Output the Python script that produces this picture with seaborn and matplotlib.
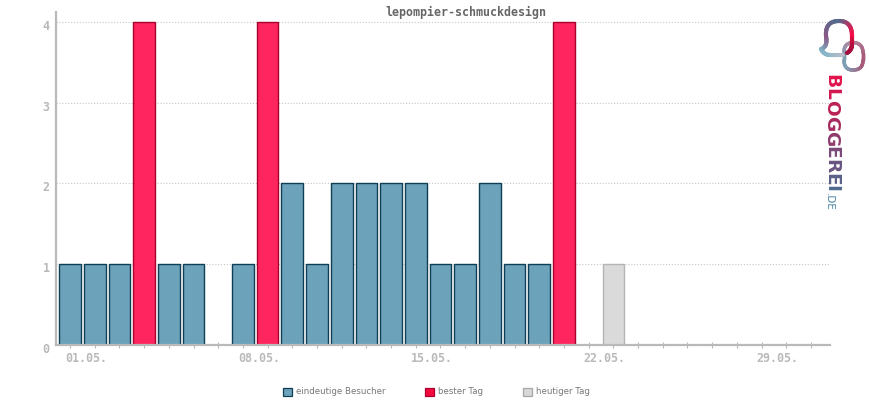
import numpy as np
import pandas as pd
import matplotlib
matplotlib.use("Agg")
import matplotlib.pyplot as plt
import matplotlib.transforms as mtrans
from matplotlib.collections import LineCollection
from matplotlib.colors import LinearSegmentedColormap
from matplotlib.patches import Patch
from matplotlib.path import Path
import seaborn as sns

title = "lepompier-schmuckdesign"
days = list(range(1, 32))
visitors = [1, 1, 1, 4, 1, 1, 0, 1, 4, 2, 1, 2, 2, 2, 2, 1, 1, 2, 1, 1, 4, 0, 1, 0, 0, 0, 0, 0, 0, 0, 0]
best_days = [4, 9, 21]
today = 23
date_labels = ["01.05.", "08.05.", "15.05.", "22.05.", "29.05."]
kinds = ["eindeutige Besucher", "bester Tag", "heutiger Tag"]

fills = {"eindeutige Besucher": "#6ca2ba", "bester Tag": "#ff255e", "heutiger Tag": "#dadada"}
edges = {"eindeutige Besucher": "#0f3f55", "bester Tag": "#a8002f", "heutiger Tag": "#b4b4b4"}
swatches = {"eindeutige Besucher": "#6ca2ba", "bester Tag": "#f5093f", "heutiger Tag": "#d8d8d8"}
swatch_edges = {"eindeutige Besucher": "#0f3f55", "bester Tag": "#a8002f", "heutiger Tag": "#a6a6a6"}

sns.set_theme(style="white")
plt.rcParams.update({
    "font.family": ["DejaVu Sans Mono"],
    "savefig.facecolor": "white",
})

def kind_of(day):
    if day in best_days:
        return kinds[1]
    if day == today:
        return kinds[2]
    return kinds[0]

df = pd.DataFrame({"day": days, "visitors": visitors})
df["kind"] = df["day"].map(kind_of)
df = df[df["visitors"] > 0]

fig = plt.figure(figsize=(8.7, 4), dpi=100)
ax = fig.add_axes([56 / 870, 55 / 400, (830 - 56) / 870, (345 - 12) / 400])

sns.barplot(
    data=df, x="day", y="visitors", hue="kind", order=days, hue_order=kinds,
    palette=fills, dodge=False, width=0.875, legend=False, ax=ax, zorder=2,
    linewidth=1.0, saturation=1,
)
for container, kind in zip(ax.containers, kinds):
    for bar in container:
        bar.set_edgecolor(edges[kind])

ax.set_xlim(-0.567, 30.77)
ax.set_ylim(0, 333 / 80.75)
ax.set_xlabel("")
ax.set_ylabel("")
ax.set_axisbelow(True)
ax.grid(True, axis="y", color="#c6c6c6", linestyle=(0, (1, 1.6)), linewidth=0.8)
ax.grid(False, axis="x")

for side in ["top", "right"]:
    ax.spines[side].set_visible(False)
for side in ["left", "bottom"]:
    ax.spines[side].set_color("#b9b9b9")
    ax.spines[side].set_linewidth(1.6)

ax.set_yticks([0, 1, 2, 3, 4])
ax.set_xticks(range(31))
ax.set_xticklabels([date_labels[i // 7] if i % 7 == 0 else "" for i in range(31)])
ax.tick_params(axis="x", length=4.5, width=0.8, color="#b9b9b9", direction="inout", pad=2.5,
               bottom=True, labelsize=8.4, labelcolor="#b9b9b9")
ax.tick_params(axis="y", length=0, pad=4.5, labelsize=8.4, labelcolor="#b9b9b9")
shift_x = mtrans.ScaledTranslation(-5 / 100, 0, fig.dpi_scale_trans)
shift_y = mtrans.ScaledTranslation(0, -3 / 100, fig.dpi_scale_trans)
for lab in ax.get_xticklabels():
    lab.set_ha("left")
    lab.set_fontweight("bold")
    lab.set_transform(lab.get_transform() + shift_x)
for lab in ax.get_yticklabels():
    lab.set_fontweight("bold")
    lab.set_transform(lab.get_transform() + shift_y)

fig.text(465.5 / 870, 1 - 12 / 400, title, ha="center", va="center", fontsize=8.4,
         fontweight="bold", color="#666666")

# legend
handles = [Patch(facecolor=swatches[k], edgecolor=swatch_edges[k], linewidth=0.9) for k in kinds]
fig.legend(
    handles, kinds, ncol=3, frameon=False, loc="center", bbox_to_anchor=(436.5 / 870, 1 - 392 / 400),
    prop={"family": "DejaVu Sans", "size": 6.2}, labelcolor="#777777", handlelength=1.05,
    handleheight=1.05, handletextpad=0.45, columnspacing=4.6, borderpad=0,
)

# logo, drawn in pixel coordinates
logo = fig.add_axes([0, 0, 1, 1], zorder=5)
logo.set_xlim(0, 870)
logo.set_ylim(400, 0)
logo.axis("off")
logo.patch.set_alpha(0)

C3 = Path.CURVE3
L = Path.LINETO
M = Path.MOVETO
bubble = Path(
    [(821, 49), (828, 47), (826, 36), (825, 21), (839, 21), (852, 21), (852, 36), (852, 44), (852, 50), (847, 53)],
    [M, C3, C3, C3, C3, C3, C3, L, C3, C3],
)
base = Path(
    [(821, 49), (824, 55), (830, 55), (843, 55)],
    [M, C3, C3, L],
)
link = Path(
    [(853, 42.5), (863, 43), (863, 53), (863, 60), (863, 70), (853, 70), (844, 70), (844, 60), (844, 52), (844, 43), (853, 42.5)],
    [M, C3, C3, L, C3, C3, C3, C3, L, C3, C3],
)

def draw_gradient(path, colours, lw):
    # sample every bezier piece so the colour can change along the stroke
    t = np.linspace(0, 1, 20)
    pts = np.concatenate([curve(t) for curve, _ in path.iter_bezier() if curve.degree > 0])
    segs = np.stack([pts[:-1], pts[1:]], axis=1)
    lc = LineCollection(segs, cmap=LinearSegmentedColormap.from_list("g", colours), linewidth=lw, capstyle="round")
    lc.set_array(np.linspace(0, 1, len(segs)))
    logo.add_collection(lc)

draw_gradient(link, ["#b3889f", "#a85a7c", "#a85a7c", "#7f9fb5", "#7f9fb5", "#b3889f"], 2.5)
draw_gradient(base, ["#7fb5c8", "#8fb8c8", "#b8bcc8"], 2.9)
draw_gradient(bubble, ["#7fb5c8", "#8a5a85", "#4f6d8f", "#ff0a45", "#c0103f", "#a01040"], 3.0)

letters = "BLOGGEREI"
letter_y = [81, 94, 107.8, 123.2, 138.4, 152.3, 165.7, 179.1, 188.8]
letter_colours = ["#e2134c", "#d2174f", "#bb2155", "#a62b5e", "#8f3a6c", "#79497a", "#675581", "#5a6088", "#4f6c8e"]
for ch, yy, col in zip(letters, letter_y, letter_colours):
    logo.text(831.5, yy, ch, rotation=-90, ha="center", va="center", fontsize=13.3,
              fontweight="bold", family="DejaVu Sans", color=col)
logo.text(829, 202, ".DE", rotation=-90, ha="center", va="center", fontsize=7.5,
          family="DejaVu Sans", color="#4d86a8")

fig.savefig("out.png", dpi=100)
